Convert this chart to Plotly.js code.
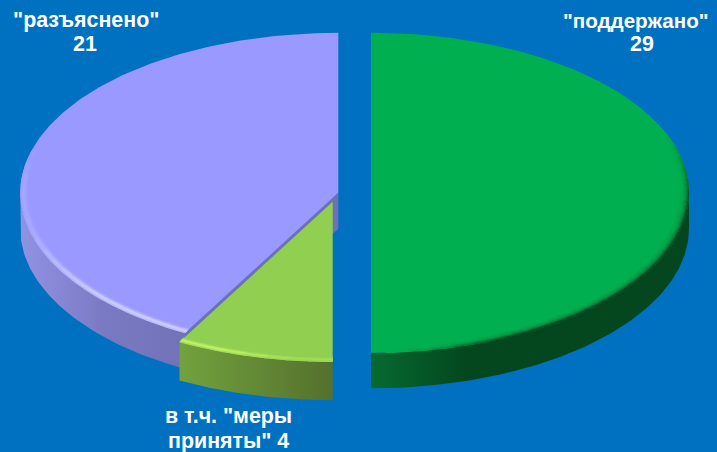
<!DOCTYPE html>
<html><head><meta charset="utf-8">
<script src="https://cdn.plot.ly/plotly-3.0.1.min.js"></script>
<style>html,body{margin:0;padding:0;background:#0070c0;overflow:hidden}#c{width:717px;height:452px}</style>
</head><body><div id="c"></div>
<script>
// Data
const sliceNames  = ['"поддержано"', 'в т.ч. "меры приняты"', '"разъяснено"'];
const sliceValues = [25, 4, 21];     // slice sizes (share of the ring)
const shownValues = [29, 4, 21];     // numbers printed in the labels

// Style / layout constants
const W = 717, H = 452;
const RX = 318, RY = 160;
const geom = [
  {cx:371,   cy:192.8, depth:35.5, top:'#00b050', side:[[0,'#066a30'],[0.3,'#04471f'],[1,'#04471f']]},
  {cx:332.7, cy:201.7, depth:38.5, top:'#90cf50', side:[[0,'#72a23e'],[1,'#54702d']]},
  {cx:338.3, cy:192.8, depth:36,   top:'#9999ff', side:[[0,'#9292e4'],[0.5,'#7a7ac4'],[1,'#7272b8']]}
];
const total = sliceValues.reduce((a,b)=>a+b,0);
let acc = 0;
const spans = sliceValues.map(v=>{const a=acc; acc+=v/total*360; return [a,acc];});

const pt=(g,deg,rx=RX,ry=RY,dy=0)=>{const t=deg*Math.PI/180;return [g.cx+rx*Math.sin(t), g.cy-ry*Math.cos(t)+dy];};
const arc=(g,a,b,rx,ry,dy,step=1)=>{const p=[];const n=Math.max(1,Math.ceil(Math.abs(b-a)/step));for(let i=0;i<=n;i++)p.push(pt(g,a+(b-a)*i/n,rx,ry,dy));return p;};
const hex=c=>[1,3,5].map(i=>parseInt(c.substr(i,2),16));
const mix=(a,b,t)=>{const A=hex(a),B=hex(b);return 'rgb('+A.map((v,i)=>Math.round(v+(B[i]-v)*t)).join(',')+')';};
const poly=(pts,style)=>Object.assign({type:'scatter',mode:'lines',x:pts.map(p=>p[0]),y:pts.map(p=>p[1]),fill:'toself',line:{width:0},hoverinfo:'skip',showlegend:false},style);
const smooth=(e0,e1,x)=>{const t=Math.min(1,Math.max(0,(x-e0)/(e1-e0)));return t*t*(3-2*t);};

function sideTrace(i,a,b){
  const g=geom[i];
  const pts=arc(g,a,b,RX,RY,0).concat(arc(g,b,a,RX,RY,g.depth));
  return poly(pts,{fillgradient:{type:'horizontal',colorscale:g.side},name:'side'});
}
function topTrace(i){
  const g=geom[i],[a,b]=spans[i];
  return poly([[g.cx,g.cy]].concat(arc(g,a,b,RX,RY,0)),{fillcolor:g.top,name:sliceNames[i]});
}
function bevel(i,a,b,edge,strength,profile,width){
  const g=geom[i],out=[],step=4;
  for(let d=width-1;d>=0;d-=0.5){
    for(let s=a;s<b;s+=step){
      const e=Math.min(b,s+step+0.4);
      const k=strength((s+e)/2)*profile(d);
      if(k<0.02) continue;
      const pts=arc(g,s,e,RX-1.7*d-0.5,RY-d-0.3,0,2);
      out.push({type:'scatter',mode:'lines',x:pts.map(p=>p[0]),y:pts.map(p=>p[1]),line:{color:mix(g.top,edge,k),width:1.2,simplify:false},hoverinfo:'skip',showlegend:false});
    }
  }
  return out;
}

const data=[];
// lilac slice: side, cut face, top, bevel
const pur=geom[2],[pa,pb]=spans[2];
data.push(sideTrace(2,pa,270));
const pr=pt(pur,pa);
data.push(poly([[pur.cx,pur.cy],pr,[pr[0],pr[1]+pur.depth],[pur.cx,pur.cy+pur.depth]],{fillcolor:'#7070b6',name:'cut'}));
data.push(topTrace(2));
data.push(...bevel(2,pa,290,'#d8d8ff',
  s=>0.25*smooth(290,268,s)+0.6*smooth(262,225,s),
  d=>Math.exp(-Math.pow((d-1.5)/2,2)),6));
// light-green slice
const [la,lb]=spans[1];
data.push(sideTrace(1,la,lb));
data.push(topTrace(1));
data.push(...bevel(1,la,lb,'#c4f868',s=>0.35+0.6*smooth(185,203,s),d=>Math.exp(-Math.pow((d-1.5)/1.6,2)),5));
// green slice
const [ga,gb]=spans[0];
data.push(sideTrace(0,90,gb));
data.push(topTrace(0));
data.push(...bevel(0,65,178,'#04471f',s=>smooth(65,100,s)*smooth(178,150,s),d=>Math.exp(-d/1.6),6));

const lab=(t,x,y,size=21.4)=>({text:'<b>'+t+'</b>',x:x,y:y,xref:'x',yref:'y',showarrow:false,xanchor:'center',yanchor:'middle',align:'center',
  font:{family:'"Liberation Sans",Arial,sans-serif',size:size,color:'#ffffff'}});
const [lineA, lineB] = ['в т.ч. "меры', 'приняты" '+shownValues[1]];
const layout={width:W,height:H,margin:{l:0,r:0,t:0,b:0},paper_bgcolor:'#0070c0',plot_bgcolor:'#0070c0',showlegend:false,
  xaxis:{range:[0,W],visible:false,fixedrange:true},
  yaxis:{range:[H,0],visible:false,fixedrange:true},
  annotations:[
    lab(sliceNames[2],86,20), lab(String(shownValues[2]),85,44),
    lab(sliceNames[0],635.5,20,20.6), lab(String(shownValues[0]),642,44),
    lab(lineA,228,416), lab(lineB,228,441)
  ]};
Plotly.newPlot('c',data,layout,{displayModeBar:false,staticPlot:true});
</script></body></html>
